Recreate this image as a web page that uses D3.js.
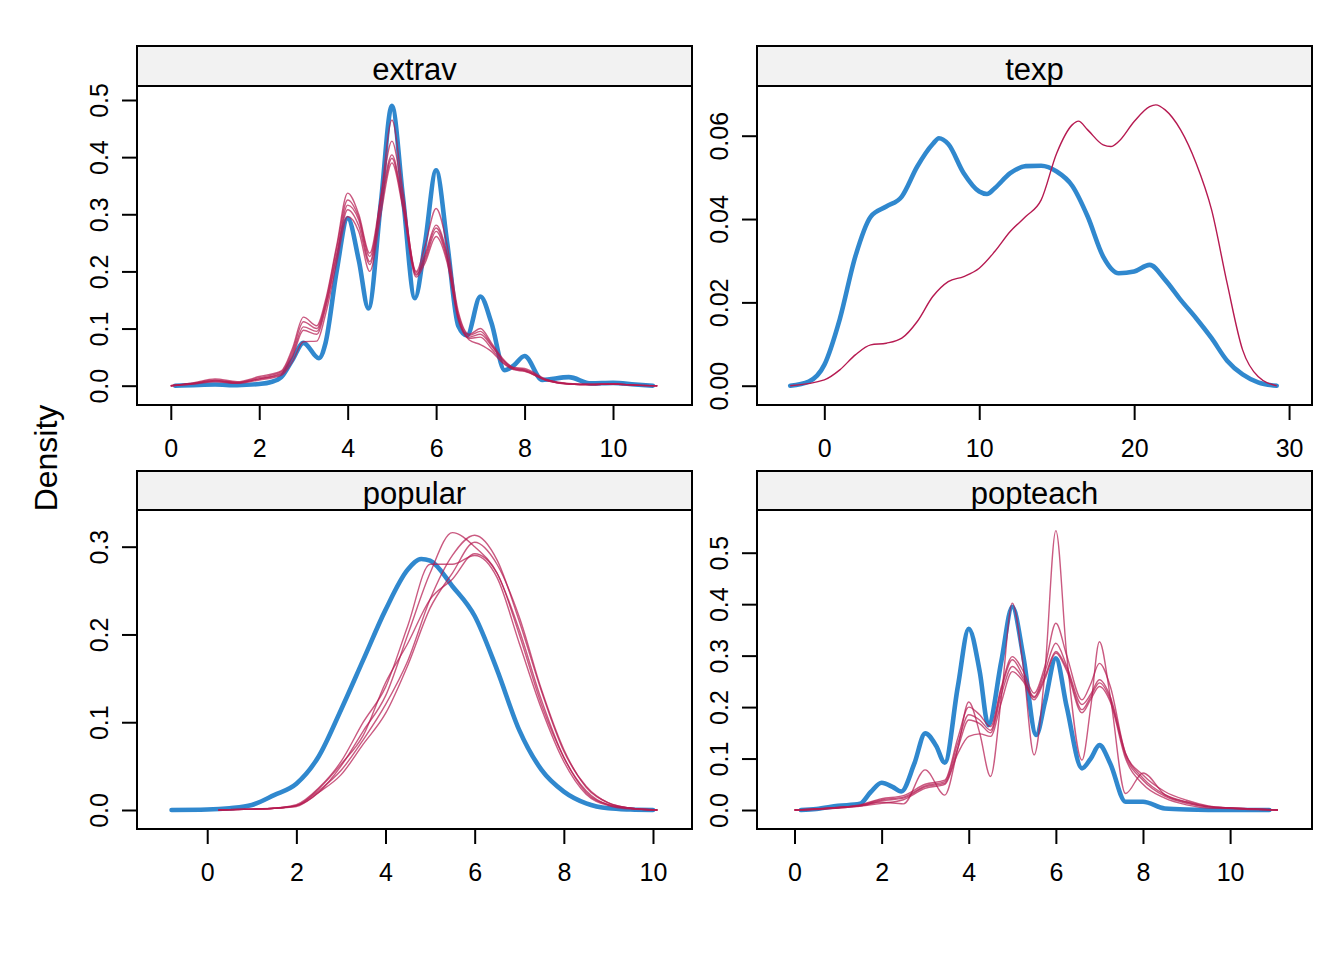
<!DOCTYPE html>
<html>
<head>
<meta charset="utf-8">
<script src="https://cdn.jsdelivr.net/npm/d3@7"></script>
<style>
  body { margin: 0; background: #fff; }
  svg { display: block; font-family: "Liberation Sans", Arial, sans-serif; }
</style>
</head>
<body>
<svg id="chart" width="1344" height="960"></svg>
<script>
/* Observed (blue) vs imputed (red) kernel densities, one panel per variable. */

var panelNames = ["extrav", "texp", "popular", "popteach"];

// extrav
var extravObsX = [0.1, 0.5, 1, 1.5, 2, 2.25, 2.5, 2.75, 3, 3.35, 3.5, 3.75, 4, 4.25, 4.47, 4.75, 5, 5.25, 5.52, 5.75, 6, 6.25, 6.5, 6.7, 7, 7.25, 7.55, 7.75, 8, 8.4, 9, 9.5, 10, 10.5, 10.9];
var extravObs = [0, .001, .002, .001, .003, .006, .015, .045, .075, .048, .075, .2, .293, .22, .135, .32, .49, .33, .153, .25, .377, .25, .105, .088, .156, .11, .027, .035, .052, .01, .015, .004, .005, .002, 0];
var extravImpX = [0, 0.5, 1, 1.5, 2, 2.5, 2.75, 3, 3.3, 3.5, 3.75, 4, 4.25, 4.5, 4.75, 5, 5.25, 5.55, 5.75, 6, 6.25, 6.5, 6.75, 7, 7.25, 7.5, 7.75, 8, 8.5, 9, 9.5, 10, 10.5, 11];
var extravImp1 = [0, .004, .009, .005, .012, .022, .055, .103, .095, .14, .23, .316, .29, .217, .33, .465, .34, .195, .22, .27, .22, .12, .085, .09, .07, .045, .03, .027, .01, .003, .002, .003, .001, 0];
var extravImp2 = [0, .005, .012, .007, .016, .026, .065, .12, .105, .15, .245, .337, .30, .232, .33, .428, .33, .2, .245, .31, .245, .13, .09, .1, .075, .048, .032, .03, .011, .004, .002, .003, .001, 0];
var extravImp3 = [0, .004, .01, .006, .014, .024, .06, .112, .1, .145, .24, .325, .295, .226, .32, .404, .32, .198, .23, .281, .23, .125, .088, .095, .072, .046, .031, .028, .01, .003, .002, .003, .001, 0];
var extravImp4 = [0, .003, .008, .005, .012, .02, .05, .097, .09, .135, .225, .308, .28, .212, .31, .398, .315, .193, .225, .276, .225, .12, .083, .085, .065, .042, .029, .026, .009, .003, .002, .003, .001, 0];
var extravImp5 = [0, .003, .007, .004, .01, .018, .042, .077, .078, .125, .215, .296, .27, .20, .30, .39, .31, .19, .215, .261, .215, .115, .08, .072, .06, .04, .028, .025, .009, .003, .002, .003, .001, 0];

// texp
var texpObsX = [-2.2, -1, 0, 1, 2, 3, 4, 5, 6, 7, 7.4, 8, 9, 10, 10.5, 11, 12, 13, 14, 15, 16, 17, 18, 19, 20, 21, 22, 23, 24, 25, 26, 27, 28, 29.2];
var texpObs = [0, .001, .005, .016, .031, .0406, .043, .0454, .0526, .058, .0594, .058, .051, .0466, .046, .0474, .051, .0527, .0528, .0514, .048, .0406, .031, .027, .0274, .029, .0254, .0206, .0162, .0114, .006, .0027, .0008, 0];
var texpImpX = [-2.2, 0, 1, 2, 3, 4, 5, 6, 7, 8, 9, 10, 11, 12, 13, 14, 15, 16, 16.4, 17, 18, 18.5, 19, 20, 21, 21.4, 22, 23, 24, 25, 26, 27, 28, 29.2];
var texpImp1 = [0, .0014, .0038, .0074, .0098, .0102, .0114, .0154, .0214, .025, .0262, .0282, .0322, .037, .0406, .0446, .0558, .0626, .0635, .0614, .0578, .0574, .0586, .0634, .067, .0674, .0662, .0614, .0534, .0422, .0246, .0086, .0022, 0];

// popular
var popularObsX = [-0.8, 0, 0.5, 1, 1.5, 2, 2.5, 3, 3.5, 4, 4.5, 4.8, 5, 5.5, 6, 6.5, 7, 7.5, 8, 8.5, 9, 9.5, 10];
var popularObs = [0, .0005, .002, .0057, .017, .03, .061, .114, .171, .228, .274, .286, .284, .255, .221, .16, .091, .0457, .021, .0076, .0019, .0005, 0];
var popularImpX = [0.25, 1, 1.5, 2, 2.5, 3, 3.5, 4, 4.5, 5, 5.5, 6, 6.5, 7, 7.5, 8, 8.5, 9, 9.5, 10.1];
var popularImp1 = [0, .001, .002, .005, .02, .05, .09, .13, .20, .27, .316, .30, .27, .205, .125, .06, .022, .006, .002, 0];
var popularImp2 = [0, .001, .002, .006, .025, .055, .10, .14, .21, .28, .28, .29, .265, .19, .115, .055, .018, .005, .001, 0];
var popularImp3 = [0, .001, .002, .005, .022, .045, .08, .12, .17, .24, .29, .313, .285, .215, .135, .067, .027, .008, .002, 0];
var popularImp4 = [0, .001, .002, .004, .02, .04, .075, .11, .165, .23, .27, .305, .28, .22, .137, .069, .026, .008, .002, 0];
var popularImp5 = [0, .001, .002, .005, .024, .052, .085, .145, .19, .24, .263, .292, .27, .20, .12, .06, .02, .006, .002, 0];

// popteach
var popteachObsX = [0.15, 0.5, 1, 1.5, 1.75, 2, 2.25, 2.45, 2.75, 3, 3.25, 3.45, 3.75, 4, 4.25, 4.45, 4.75, 5, 5.25, 5.55, 5.75, 6, 6.25, 6.6, 6.8, 7, 7.25, 7.6, 8, 8.5, 9, 10, 10.9];
var popteachObs = [0, .002, .008, .012, .035, .053, .045, .036, .09, .149, .125, .092, .24, .352, .27, .165, .29, .395, .30, .146, .21, .295, .2, .081, .1, .126, .09, .016, .016, .003, .001, 0, 0];
var popteachImpX = [0, .5, 1, 1.5, 2, 2.5, 3, 3.45, 3.75, 4, 4.25, 4.5, 4.75, 5, 5.25, 5.5, 5.75, 6, 6.25, 6.6, 6.8, 7, 7.25, 7.6, 8, 8.5, 9, 9.5, 10, 10.5, 11.1];
var popteachImp1 = [0, .002, .005, .008, .015, .012, .078, .029, .12, .21, .15, .065, .22, .402, .28, .107, .27, .543, .30, .097, .2, .327, .22, .032, .072, .03, .015, .006, .004, .002, 0];
var popteachImp2 = [0, .002, .005, .01, .022, .028, .05, .058, .14, .2, .185, .162, .24, .298, .27, .227, .28, .363, .30, .214, .245, .285, .24, .11, .068, .036, .019, .008, .004, .002, 0];
var popteachImp3 = [0, .002, .005, .009, .02, .025, .047, .055, .13, .185, .175, .155, .235, .292, .26, .22, .27, .324, .28, .205, .225, .253, .22, .11, .062, .03, .016, .007, .004, .002, 0];
var popteachImp4 = [0, .002, .004, .008, .018, .023, .045, .052, .12, .175, .168, .15, .225, .279, .255, .218, .26, .308, .275, .195, .22, .247, .215, .105, .058, .027, .013, .006, .004, .002, 0];
var popteachImp5 = [0, .001, .004, .007, .013, .02, .042, .05, .11, .143, .148, .143, .21, .269, .25, .214, .255, .305, .27, .189, .215, .24, .21, .1, .05, .023, .01, .004, .003, .001, 0];

// axis ticks
var extravXTicks = [0, 2, 4, 6, 8, 10];
var extravYTicks = [0, 0.1, 0.2, 0.3, 0.4, 0.5];
var texpXTicks = [0, 10, 20, 30];
var texpYTicks = [0, 0.02, 0.04, 0.06];
var popularXTicks = [0, 2, 4, 6, 8, 10];
var popularYTicks = [0, 0.1, 0.2, 0.3];
var popteachXTicks = [0, 2, 4, 6, 8, 10];
var popteachYTicks = [0, 0.1, 0.2, 0.3, 0.4, 0.5];

var yLabel = "Density";

var blue = "#3088CE", red = "#B61A51";

var panels = [
  { name: panelNames[0], left: 137, right: 692, stripTop: 46, top: 86, bottom: 405,
    xDom: [-0.764, 11.786], yDom: [-0.0338, 0.5245], xTicks: extravXTicks, yTicks: extravYTicks, yFmt: ".1f",
    obsX: extravObsX, obs: extravObs, impX: extravImpX,
    imps: [extravImp1, extravImp2, extravImp3, extravImp4, extravImp5] },
  { name: panelNames[1], left: 757, right: 1312, stripTop: 46, top: 86, bottom: 405,
    xDom: [-4.345, 31.48], yDom: [-0.00463, 0.07193], xTicks: texpXTicks, yTicks: texpYTicks, yFmt: ".2f",
    obsX: texpObsX, obs: texpObs, impX: texpImpX,
    imps: [texpImp1] },
  { name: panelNames[2], left: 137, right: 692, stripTop: 471, top: 510, bottom: 829,
    xDom: [-1.575, 10.875], yDom: [-0.02165, 0.3418], xTicks: popularXTicks, yTicks: popularYTicks, yFmt: ".1f",
    obsX: popularObsX, obs: popularObs, impX: popularImpX,
    imps: [popularImp1, popularImp2, popularImp3, popularImp4, popularImp5] },
  { name: panelNames[3], left: 757, right: 1312, stripTop: 471, top: 510, bottom: 829,
    xDom: [-0.861, 11.88], yDom: [-0.0369, 0.583], xTicks: popteachXTicks, yTicks: popteachYTicks, yFmt: ".1f",
    obsX: popteachObsX, obs: popteachObs, impX: popteachImpX,
    imps: [popteachImp1, popteachImp2, popteachImp3, popteachImp4, popteachImp5] }
];

var svg = d3.select("#chart");

panels.forEach(function (p) {
  var x = d3.scaleLinear().domain(p.xDom).range([p.left, p.right]);
  var y = d3.scaleLinear().domain(p.yDom).range([p.bottom, p.top]);
  var g = svg.append("g");

  var clipId = "clip-" + p.name;
  g.append("clipPath").attr("id", clipId).append("rect")
    .attr("x", p.left).attr("y", p.top).attr("width", p.right - p.left).attr("height", p.bottom - p.top);

  var line = d3.line().curve(d3.curveMonotoneX)
    .x(function (d) { return x(d[0]); })
    .y(function (d) { return y(d[1]); });

  var plot = g.append("g").attr("clip-path", "url(#" + clipId + ")");
  plot.append("path")
    .datum(d3.zip(p.obsX, p.obs))
    .attr("d", line)
    .attr("fill", "none").attr("stroke", blue).attr("stroke-width", 4.6)
    .attr("stroke-linejoin", "round").attr("stroke-linecap", "round");

  var single = p.imps.length === 1;
  p.imps.forEach(function (imp) {
    plot.append("path")
      .datum(d3.zip(p.impX, imp))
      .attr("d", line)
      .attr("fill", "none").attr("stroke", red)
      .attr("stroke-opacity", single ? 1 : 0.72)
      .attr("stroke-width", 1.4).attr("stroke-linejoin", "round");
  });

  // strip
  g.append("rect").attr("x", p.left).attr("y", p.stripTop)
    .attr("width", p.right - p.left).attr("height", p.top - p.stripTop)
    .attr("fill", "#F2F2F2").attr("stroke", "#000").attr("stroke-width", 2);
  g.append("text").attr("x", (p.left + p.right) / 2).attr("y", p.top - 6.5)
    .attr("text-anchor", "middle").attr("font-size", 31).text(p.name);

  // box
  g.append("rect").attr("x", p.left).attr("y", p.top)
    .attr("width", p.right - p.left).attr("height", p.bottom - p.top)
    .attr("fill", "none").attr("stroke", "#000").attr("stroke-width", 2);

  var xAxis = g.append("g").attr("transform", "translate(0," + p.bottom + ")")
    .call(d3.axisBottom(x).tickValues(p.xTicks).tickSize(15).tickPadding(19).tickFormat(d3.format("d")));
  xAxis.select(".domain").remove();
  xAxis.selectAll("line").attr("stroke", "#000").attr("stroke-width", 2);
  xAxis.selectAll("text").attr("font-size", 25).attr("fill", "#000");
  xAxis.attr("font-family", null);

  var yAxis = g.append("g").attr("transform", "translate(" + p.left + ",0)")
    .call(d3.axisLeft(y).tickValues(p.yTicks).tickSize(15).tickFormat(d3.format(p.yFmt)));
  yAxis.select(".domain").remove();
  yAxis.attr("font-family", null);
  yAxis.selectAll("line").attr("stroke", "#000").attr("stroke-width", 2);
  yAxis.selectAll("text")
    .attr("font-size", 25).attr("fill", "#000")
    .attr("x", 0).attr("y", -29).attr("dy", null)
    .attr("text-anchor", "middle")
    .attr("transform", "rotate(-90)");
});

svg.append("text")
  .attr("transform", "translate(57,458) rotate(-90)")
  .attr("text-anchor", "middle").attr("font-size", 32).text(yLabel);
</script>
</body>
</html>
